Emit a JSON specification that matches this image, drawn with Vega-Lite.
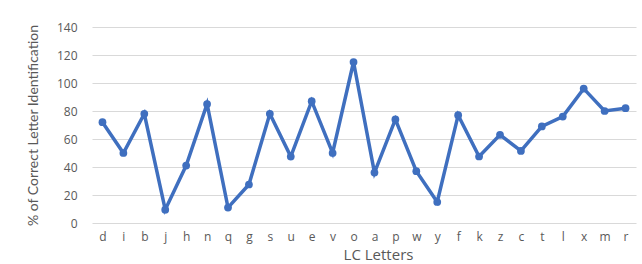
{
  "$schema": "https://vega.github.io/schema/vega-lite/v6.json",
  "width": 544,
  "height": 196,
  "autosize": {"type": "none"},
  "padding": {"left": 92, "top": 27, "right": 6, "bottom": 41},
  "background": "white",
  "config": {"view": {"stroke": null}},
  "data": {"values": [
    {"letter": "d", "pct": 72},
    {"letter": "i", "pct": 50},
    {"letter": "b", "pct": 78},
    {"letter": "j", "pct": 9.5},
    {"letter": "h", "pct": 41},
    {"letter": "n", "pct": 85},
    {"letter": "q", "pct": 11},
    {"letter": "g", "pct": 27.5},
    {"letter": "s", "pct": 78},
    {"letter": "u", "pct": 47.5},
    {"letter": "e", "pct": 87},
    {"letter": "v", "pct": 50},
    {"letter": "o", "pct": 115},
    {"letter": "a", "pct": 36},
    {"letter": "p", "pct": 74},
    {"letter": "w", "pct": 37},
    {"letter": "y", "pct": 15},
    {"letter": "f", "pct": 77},
    {"letter": "k", "pct": 47.5},
    {"letter": "z", "pct": 63},
    {"letter": "c", "pct": 51.5},
    {"letter": "t", "pct": 69},
    {"letter": "l", "pct": 76},
    {"letter": "x", "pct": 96},
    {"letter": "m", "pct": 80},
    {"letter": "r", "pct": 82}
  ]},
  "mark": {"type": "line", "color": "#3f6fbf", "strokeWidth": 3.5, "point": {"filled": true, "size": 60, "color": "#3f6fbf"}},
  "encoding": {
    "x": {
      "field": "letter", "type": "ordinal", "sort": null,
      "scale": {"type": "point", "padding": 0.5},
      "axis": {
        "title": "LC Letters", "labelAngle": 0, "domain": false, "ticks": false,
        "labelFont": "Open Sans", "labelFontSize": 12, "labelColor": "#595959", "labelPadding": 8,
        "titleFont": "Open Sans", "titleFontSize": 15, "titleFontWeight": "normal", "titleColor": "#595959",
        "titlePadding": 5, "titleX": 286
      }
    },
    "y": {
      "field": "pct", "type": "quantitative",
      "scale": {"domain": [0, 140]},
      "axis": {
        "title": "% of Correct Letter Identification", "values": [0, 20, 40, 60, 80, 100, 120, 140],
        "domain": false, "ticks": false, "gridColor": "#d9d9d9", "gridWidth": 1,
        "labelFont": "Open Sans", "labelFontSize": 12, "labelColor": "#595959", "labelPadding": 15,
        "titleFont": "Lato", "titleFontSize": 14, "titleFontWeight": "normal", "titleColor": "#595959",
        "titlePadding": 16
      }
    }
  }
}
